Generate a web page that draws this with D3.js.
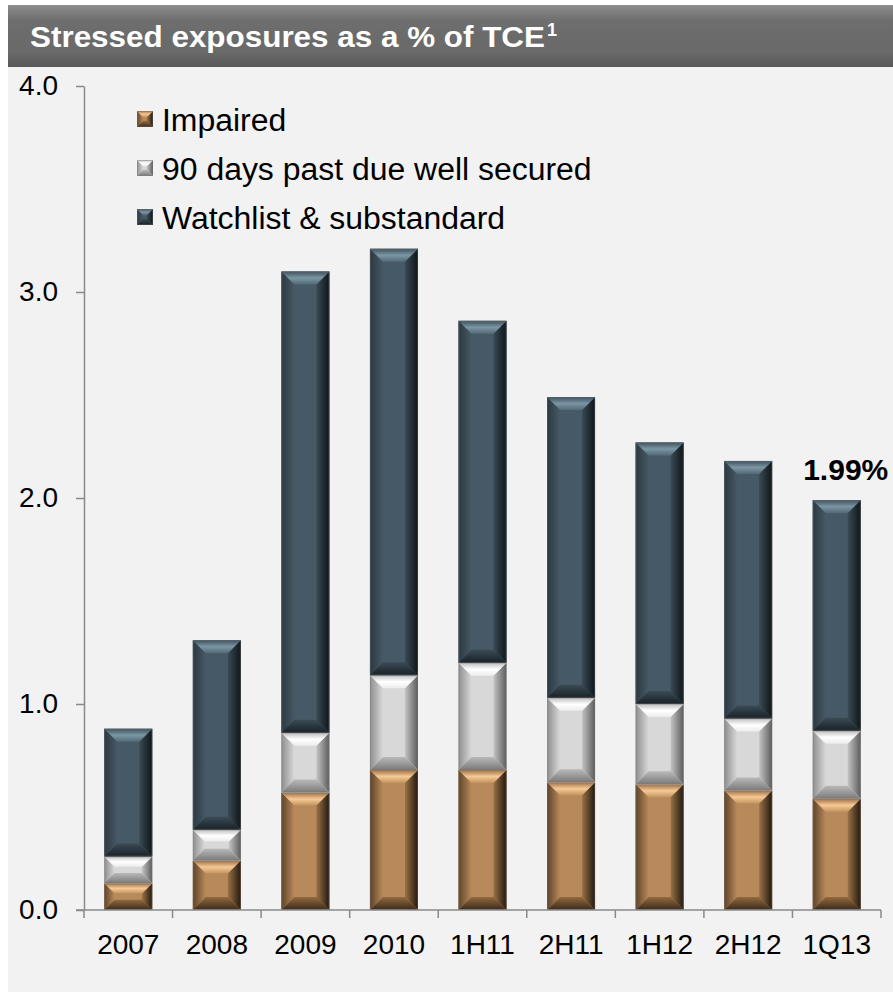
<!DOCTYPE html>
<html>
<head>
<meta charset="utf-8">
<script src="https://cdn.jsdelivr.net/npm/d3@7"></script>
<style>
  html, body { margin: 0; padding: 0; background: #ffffff; }
  svg { display: block; }
  text { font-family: "Liberation Sans", Arial, sans-serif; }
</style>
</head>
<body>
<svg id="chart" width="893" height="992"></svg>
<script>
// Stressed exposures as a % of TCE, stacked by period
const categories = ["2007", "2008", "2009", "2010", "1H11", "2H11", "1H12", "2H12", "1Q13"];
const impaired   = [0.13, 0.24, 0.57, 0.68, 0.68, 0.62, 0.61, 0.58, 0.54];
const pastDue90  = [0.13, 0.15, 0.29, 0.46, 0.52, 0.41, 0.39, 0.35, 0.33];
const watchlist  = [0.62, 0.92, 2.24, 2.07, 1.66, 1.46, 1.27, 1.25, 1.12];
const seriesNames = ["Impaired", "90 days past due well secured", "Watchlist & substandard"];
const yTicks = [0, 1, 2, 3, 4];
const totalLabel = { category: "1Q13", value: 1.99, text: "1.99%" };

const svg = d3.select("#chart");
const W = 893, H = 992;

// bevel palettes per series: body, top, left, right, bottom gradient stops
const palettes = [
  { key: "imp", body: "#b88a5b",
    top: ["#9c7048", "#f6c995", "#c3935f"], left: ["#5e4329", "#b88a5b"],
    right: ["#9a7246", "#22180e"], bottom: ["#93693f", "#3b2a19"] },
  { key: "pd", body: "#d8d8d8",
    top: ["#bdbdbd", "#ffffff", "#ececec"], left: ["#8e8e8e", "#d8d8d8"],
    right: ["#c4c4c4", "#5c5c5c"], bottom: ["#b9b9b9", "#7a7a7a"] },
  { key: "wl", body: "#465966",
    top: ["#3f505b", "#7b96a4", "#536a78"], left: ["#2b3840", "#465966"],
    right: ["#3a4a55", "#0e1518"], bottom: ["#3b4b56", "#182126"] }
];

const defs = svg.append("defs");
function grad(id, stops, vertical) {
  const g = defs.append("linearGradient").attr("id", id)
    .attr("x1", 0).attr("y1", 0)
    .attr("x2", vertical ? 0 : 1).attr("y2", vertical ? 1 : 0);
  stops.forEach((c, i) => g.append("stop")
    .attr("offset", (i / (stops.length - 1) * 100) + "%").attr("stop-color", c));
}
palettes.forEach(p => {
  grad(p.key + "-top", p.top, true);
  grad(p.key + "-left", p.left, false);
  grad(p.key + "-right", p.right, false);
  grad(p.key + "-bottom", p.bottom, true);
});
grad("titleGrad", ["#8e8e8e", "#6e6e6e", "#6b6b6b", "#6a6a6a", "#585858"], true);

// page background and title bar
svg.append("rect").attr("x", 8).attr("y", 67).attr("width", W - 8).attr("height", H - 67)
  .attr("fill", "#f2f2f2");
svg.append("rect").attr("x", 8).attr("y", 5).attr("width", W - 8).attr("height", 62)
  .attr("fill", "url(#titleGrad)");
svg.append("text").attr("x", 30).attr("y", 47)
  .attr("font-size", 29).attr("font-weight", "bold").attr("fill", "#ffffff")
  .attr("textLength", 515).attr("lengthAdjust", "spacingAndGlyphs")
  .text("Stressed exposures as a % of TCE");
svg.append("text").attr("x", 547).attr("y", 36)
  .attr("font-size", 18).attr("font-weight", "bold").attr("fill", "#ffffff")
  .text("1");

// scales
const x = d3.scaleBand().domain(categories).range([84, 881])
  .paddingInner(0.458).paddingOuter(0.229);
const y = d3.scaleLinear().domain([0, 4]).range([910, 86]);

// stack data
const rows = categories.map((c, i) => ({ cat: c, s0: impaired[i], s1: pastDue90[i], s2: watchlist[i] }));
const stacked = d3.stack().keys(["s0", "s1", "s2"])(rows);

// draws a bevelled rectangle
function bevel(g, bx, by, bw, bh, p, maxB) {
  const b = Math.max(1, Math.min(maxB, bh / 2.6, bw / 2));
  const poly = pts => pts.map(q => q.join(",")).join(" ");
  g.append("rect").attr("x", bx).attr("y", by).attr("width", bw).attr("height", bh)
    .attr("fill", p.body);
  g.append("polygon").attr("points", poly([[bx, by], [bx + b, by + b], [bx + b, by + bh - b], [bx, by + bh]]))
    .attr("fill", `url(#${p.key}-left)`);
  g.append("polygon").attr("points", poly([[bx + bw, by], [bx + bw - b, by + b], [bx + bw - b, by + bh - b], [bx + bw, by + bh]]))
    .attr("fill", `url(#${p.key}-right)`);
  g.append("polygon").attr("points", poly([[bx, by + bh], [bx + bw, by + bh], [bx + bw - b, by + bh - b], [bx + b, by + bh - b]]))
    .attr("fill", `url(#${p.key}-bottom)`);
  g.append("polygon").attr("points", poly([[bx, by], [bx + bw, by], [bx + bw - b, by + b], [bx + b, by + b]]))
    .attr("fill", `url(#${p.key}-top)`);
  g.append("rect").attr("x", bx + 0.5).attr("y", by + 0.5).attr("width", bw - 1).attr("height", Math.max(0, bh - 1))
    .attr("fill", "none").attr("stroke", "rgba(120,120,120,0.35)").attr("stroke-width", 1);
}

const barsG = svg.append("g");
stacked.forEach((layer, si) => {
  layer.forEach(d => {
    const g = barsG.append("g");
    const top = y(d[1]), bottom = y(d[0]);
    bevel(g, x(d.data.cat), top, x.bandwidth(), bottom - top, palettes[si], 13);
  });
});

// axes
const axisColor = "#8a8a8a";
const yAxis = svg.append("g").attr("transform", "translate(84,0)")
  .call(d3.axisLeft(y).tickValues(yTicks).tickFormat(d3.format(".1f"))
    .tickSizeInner(8).tickSizeOuter(0).tickPadding(18));
yAxis.select(".domain").attr("stroke", axisColor).attr("stroke-width", 1.5);
yAxis.selectAll(".tick line").attr("stroke", axisColor).attr("stroke-width", 1.5);
yAxis.selectAll(".tick text").attr("font-size", 28).attr("fill", "#000")
  .attr("font-family", "Liberation Sans, Arial, sans-serif");

const xAxis = svg.append("g").attr("transform", "translate(0,910)")
  .call(d3.axisBottom(x).tickSize(0).tickPadding(24));
xAxis.select(".domain").remove();
xAxis.selectAll(".tick text").attr("font-size", 28).attr("fill", "#000")
  .attr("font-family", "Liberation Sans, Arial, sans-serif");
svg.append("line").attr("x1", 76).attr("x2", 881).attr("y1", 910).attr("y2", 910)
  .attr("stroke", axisColor).attr("stroke-width", 1.5);
const bounds = d3.range(categories.length + 1).map(i => x.range()[0] + i * x.step());
svg.selectAll(".xb").data(bounds).enter().append("line")
  .attr("x1", d => d).attr("x2", d => d).attr("y1", 910).attr("y2", 918)
  .attr("stroke", axisColor).attr("stroke-width", 1.5);

// total label on the latest bar
svg.append("text")
  .attr("x", x(totalLabel.category) + x.bandwidth() / 2 + 9)
  .attr("y", y(totalLabel.value) - 20)
  .attr("text-anchor", "middle").attr("font-size", 30).attr("font-weight", "bold")
  .attr("fill", "#000").text(totalLabel.text);

// legend
const legend = svg.append("g");
const legendTops = [111, 160, 209];
seriesNames.forEach((name, i) => {
  const g = legend.append("g");
  bevel(g, 137, legendTops[i], 16, 16, palettes[i], 8);
  const t = g.append("text").attr("x", 162).attr("y", legendTops[i] + 20)
    .attr("font-size", 31).attr("fill", "#000").text(name);
  const len = t.node().getComputedTextLength();
  t.attr("textLength", len * 1.03).attr("lengthAdjust", "spacingAndGlyphs");
});
</script>
</body>
</html>
